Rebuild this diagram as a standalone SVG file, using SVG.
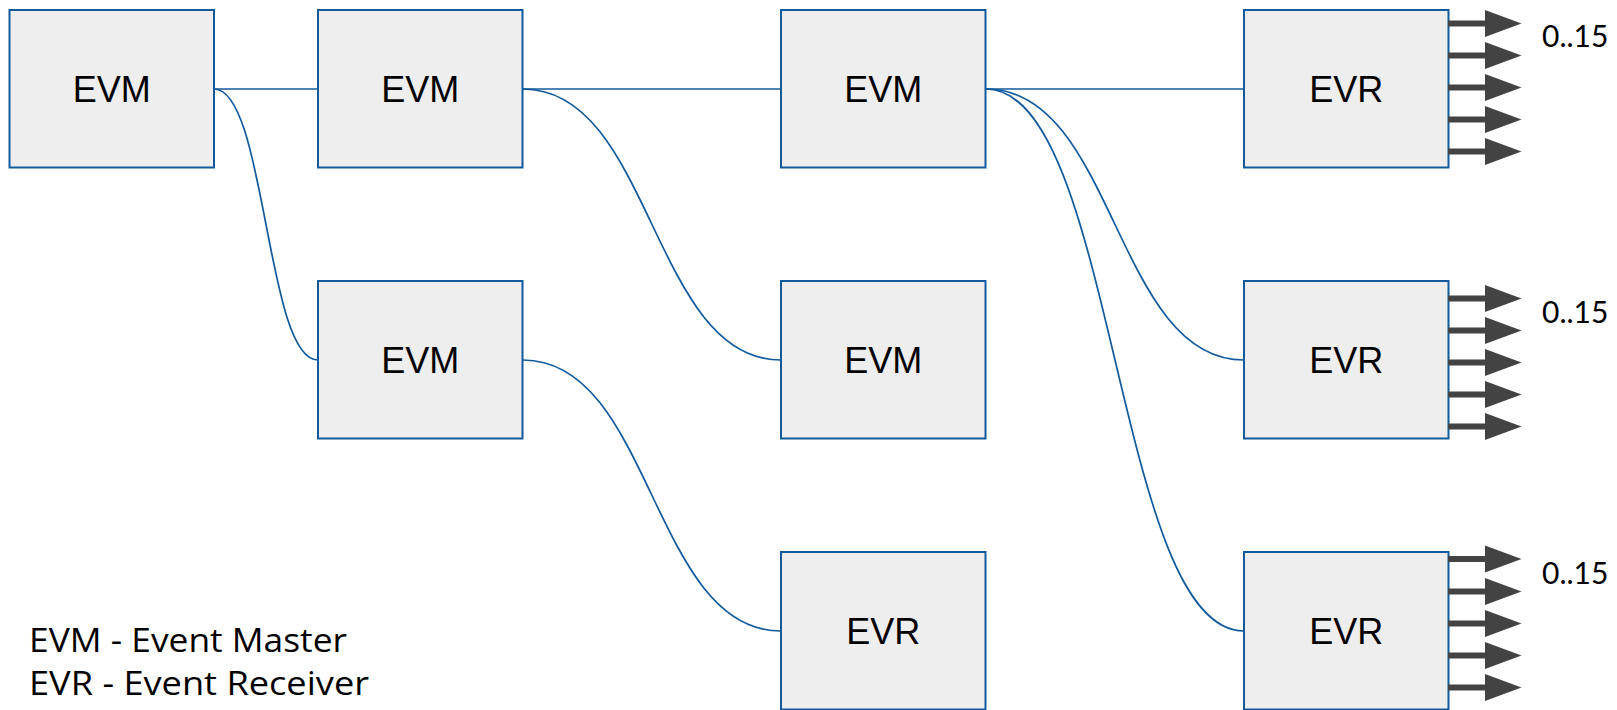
<svg xmlns="http://www.w3.org/2000/svg" width="1617" height="710" viewBox="0 0 1617 710">
  <style>
    .box { fill: #eeeeee; stroke: #135a9c; stroke-width: 2; }
    .name { font-family: "Liberation Sans", Arial, sans-serif; font-size: 36px; fill: #000000; text-anchor: middle; }
    .wire { fill: none; stroke: #135a9c; stroke-width: 1.7; }
    .out { fill: #434343; }
    .range { font-family: Lato, "Open Sans", sans-serif; font-size: 30px; fill: #000000; }
    .note { font-family: "Open Sans", Lato, sans-serif; font-size: 33px; fill: #000000; }
  </style>
  <defs>
    <!-- one output line: thick shaft with a triangular head -->
    <path id="outArrow" class="out" d="M0,-3 H37 V-13.5 L73.5,0 L37,13.5 V3 H0 Z"/>
  </defs>

  <g id="connectors">
    <line class="wire" x1="214" y1="89" x2="318" y2="89"/>
    <path class="wire" d="M214,89 C266,89 266,360 318,360"/>
    <line class="wire" x1="523" y1="89" x2="781" y2="89"/>
    <path class="wire" d="M523,89 C652,89 652,360 781,360"/>
    <path class="wire" d="M523,360 C652,360 652,631 781,631"/>
    <line class="wire" x1="986" y1="89" x2="1244" y2="89"/>
    <path class="wire" d="M986,89 C1115,89 1115,360 1244,360"/>
    <path class="wire" d="M986,89 C1115,89 1115,631 1244,631"/>
  </g>

  <g id="evm-1">
    <rect class="box" x="9.5" y="10" width="204.5" height="157.5"/>
    <text class="name" x="111.75" y="102">EVM</text>
  </g>
  <g id="evm-2">
    <rect class="box" x="318" y="10" width="204.5" height="157.5"/>
    <text class="name" x="420.25" y="102">EVM</text>
  </g>
  <g id="evm-3">
    <rect class="box" x="318" y="281" width="204.5" height="157.5"/>
    <text class="name" x="420.25" y="373">EVM</text>
  </g>
  <g id="evm-4">
    <rect class="box" x="781" y="10" width="204.5" height="157.5"/>
    <text class="name" x="883.25" y="102">EVM</text>
  </g>
  <g id="evm-5">
    <rect class="box" x="781" y="281" width="204.5" height="157.5"/>
    <text class="name" x="883.25" y="373">EVM</text>
  </g>
  <g id="evr-1">
    <rect class="box" x="781" y="552" width="204.5" height="157.5"/>
    <text class="name" x="883.25" y="644">EVR</text>
  </g>

  <g id="evr-2">
    <rect class="box" x="1244" y="10" width="204.5" height="157.5"/>
    <text class="name" x="1346.25" y="102">EVR</text>
    <use href="#outArrow" x="1448" y="23.5"/>
    <use href="#outArrow" x="1448" y="55.5"/>
    <use href="#outArrow" x="1448" y="87.5"/>
    <use href="#outArrow" x="1448" y="119.5"/>
    <use href="#outArrow" x="1448" y="151.5"/>
    <text class="range" x="1542" y="47">0..15</text>
  </g>
  <g id="evr-3">
    <rect class="box" x="1244" y="281" width="204.5" height="157.5"/>
    <text class="name" x="1346.25" y="373">EVR</text>
    <use href="#outArrow" x="1448" y="298.5"/>
    <use href="#outArrow" x="1448" y="330.5"/>
    <use href="#outArrow" x="1448" y="362.5"/>
    <use href="#outArrow" x="1448" y="394.5"/>
    <use href="#outArrow" x="1448" y="426.5"/>
    <text class="range" x="1542" y="322.5">0..15</text>
  </g>
  <g id="evr-4">
    <rect class="box" x="1244" y="552" width="204.5" height="157.5"/>
    <text class="name" x="1346.25" y="644">EVR</text>
    <use href="#outArrow" x="1448" y="559"/>
    <use href="#outArrow" x="1448" y="591.5"/>
    <use href="#outArrow" x="1448" y="623.5"/>
    <use href="#outArrow" x="1448" y="655.5"/>
    <use href="#outArrow" x="1448" y="687.5"/>
    <text class="range" x="1542" y="583.5">0..15</text>
  </g>

  <g id="legend">
    <text class="note" x="29" y="652" textLength="318" lengthAdjust="spacingAndGlyphs">EVM - Event Master</text>
    <text class="note" x="29" y="695" textLength="340" lengthAdjust="spacingAndGlyphs">EVR - Event Receiver</text>
  </g>
</svg>
